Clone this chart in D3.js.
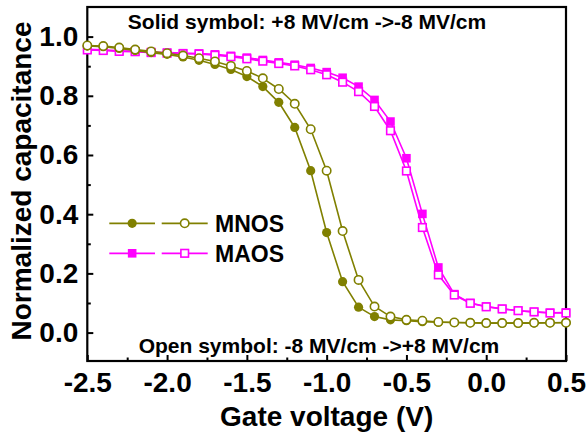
<!DOCTYPE html>
<html>
<head>
<meta charset="utf-8">
<script src="https://cdn.jsdelivr.net/npm/d3@7"></script>
<style>
  html, body { margin: 0; padding: 0; background: #fff; }
  svg { display: block; }
  text { font-family: "Liberation Sans", Arial, sans-serif; font-weight: bold; fill: #000; }
</style>
</head>
<body>
<svg id="chart" width="587" height="437"></svg>
<script>
// Gate voltage (V)
const voltage = [-2.5, -2.4, -2.3, -2.2, -2.1, -2.0, -1.9, -1.8, -1.7, -1.6, -1.5, -1.4, -1.3, -1.2, -1.1, -1.0,
                 -0.9, -0.8, -0.7, -0.6, -0.5, -0.4, -0.3, -0.2, -0.1, 0.0, 0.1, 0.2, 0.3, 0.4, 0.5];
// MNOS, solid symbol: +8 MV/cm -> -8 MV/cm
const mnosSolid = [0.968, 0.966, 0.960, 0.953, 0.946, 0.940, 0.931, 0.920, 0.906, 0.889, 0.865, 0.831, 0.778, 0.693, 0.547, 0.338,
                   0.172, 0.086, 0.054, 0.043, 0.040, 0.037, 0.035, 0.034, 0.033, 0.032, 0.032, 0.032, 0.032, 0.033, 0.034];
// MNOS, open symbol: -8 MV/cm -> +8 MV/cm
const mnosOpen = [0.970, 0.968, 0.963, 0.956, 0.950, 0.944, 0.936, 0.927, 0.916, 0.901, 0.884, 0.859, 0.823, 0.773, 0.687, 0.547,
                  0.343, 0.178, 0.088, 0.054, 0.043, 0.040, 0.036, 0.034, 0.033, 0.032, 0.032, 0.032, 0.033, 0.033, 0.033];
// MAOS, solid symbol
const maosSolid = [0.957, 0.955, 0.952, 0.950, 0.948, 0.946, 0.944, 0.943, 0.940, 0.935, 0.929, 0.921, 0.913, 0.905, 0.894, 0.880,
                   0.861, 0.831, 0.786, 0.713, 0.589, 0.401, 0.220, 0.130, 0.100, 0.088, 0.080, 0.074, 0.070, 0.067, 0.068];
// MAOS, open symbol
const maosOpen = [0.955, 0.953, 0.950, 0.949, 0.946, 0.944, 0.942, 0.941, 0.937, 0.932, 0.925, 0.917, 0.909, 0.901, 0.888, 0.871,
                  0.846, 0.814, 0.764, 0.682, 0.546, 0.355, 0.195, 0.127, 0.099, 0.087, 0.080, 0.074, 0.070, 0.066, 0.066];

const xMajorTicks = [-2.5, -2.0, -1.5, -1.0, -0.5, 0.0, 0.5];
const xMinorTicks = [-2.25, -1.75, -1.25, -0.75, -0.25, 0.25];
const yMajorTicks = [0.0, 0.2, 0.4, 0.6, 0.8, 1.0];
const yMinorTicks = [0.1, 0.3, 0.5, 0.7, 0.9];

const seriesNames = ["MNOS", "MAOS"];
const colors = { MNOS: "#808000", MAOS: "#ff00ff" };

const xLabel = "Gate voltage (V)";
const yLabel = "Normalized capacitance";
const noteTop = "Solid symbol: +8 MV/cm ->-8 MV/cm";
const noteBottom = "Open symbol: -8 MV/cm ->+8 MV/cm";

const W = 587, H = 437;
const margin = { left: 87.3, right: 21, top: 7, bottom: 76 };
const svg = d3.select("#chart");

const x = d3.scaleLinear().domain([-2.5, 0.5]).range([margin.left, W - margin.right]);
const y = d3.scaleLinear().domain([-0.096, 1.1]).range([H - margin.bottom, margin.top]);

// plain hyphen-minus, one decimal
const fmt = v => (Math.abs(v) < 1e-9 ? "0.0" : v.toFixed(1));

// axes (ticks inward)
const gx = svg.append("g").attr("transform", `translate(0,${H - margin.bottom})`);
gx.call(d3.axisBottom(x).tickValues(xMajorTicks).tickSize(-6).tickPadding(11.5).tickFormat(fmt));
const gxm = svg.append("g").attr("transform", `translate(0,${H - margin.bottom})`);
gxm.call(d3.axisBottom(x).tickValues(xMinorTicks).tickSize(-3.5).tickFormat(""));

const gy = svg.append("g").attr("transform", `translate(${margin.left},0)`);
gy.call(d3.axisLeft(y).tickValues(yMajorTicks).tickSize(-6).tickPadding(9).tickFormat(fmt));
const gym = svg.append("g").attr("transform", `translate(${margin.left},0)`);
gym.call(d3.axisLeft(y).tickValues(yMinorTicks).tickSize(-3.5).tickFormat(""));

[gx, gxm, gy, gym].forEach(g => {
  g.select(".domain").remove();
  g.selectAll(".tick line").attr("stroke", "#000").attr("stroke-width", 2);
  g.selectAll(".tick text").attr("font-size", 28).attr("font-weight", "bold")
    .attr("font-family", '"Liberation Sans", Arial, sans-serif').attr("fill", "#000");
});

// frame
svg.append("rect")
  .attr("x", x(-2.5)).attr("y", y(1.1))
  .attr("width", x(0.5) - x(-2.5)).attr("height", y(-0.096) - y(1.1))
  .attr("fill", "none").attr("stroke", "#000").attr("stroke-width", 2.2);

// axis titles
svg.append("text").attr("x", (x(-2.5) + x(0.5)) / 2).attr("y", 426)
  .attr("text-anchor", "middle").attr("font-size", 28).text(xLabel);
svg.append("text").attr("transform", `translate(30.5,${181}) rotate(-90)`)
  .attr("text-anchor", "middle").attr("font-size", 28).text(yLabel);

// notes
svg.append("text").attr("x", 307).attr("y", 28.5).attr("text-anchor", "middle")
  .attr("font-size", 21).text(noteTop);
svg.append("text").attr("x", 319).attr("y", 352.5).attr("text-anchor", "middle")
  .attr("font-size", 21).text(noteBottom);

// series
const line = d3.line().x(d => x(d[0])).y(d => y(d[1]));
const plot = svg.append("g");

function drawSeries(values, color, shape, filled) {
  const pts = voltage.map((v, i) => [v, values[i]]);
  plot.append("path").datum(pts).attr("d", line)
    .attr("fill", "none").attr("stroke", color).attr("stroke-width", 1.6);
  drawMarkers(plot, pts.map(p => [x(p[0]), y(p[1])]), color, shape, filled);
}

function drawMarkers(g, pxPts, color, shape, filled) {
  if (shape === "circle") {
    g.selectAll(null).data(pxPts).enter().append("circle")
      .attr("cx", d => d[0]).attr("cy", d => d[1]).attr("r", filled ? 4.6 : 4.2)
      .attr("fill", filled ? color : "#fff").attr("stroke", color).attr("stroke-width", filled ? 0 : 1.6);
  } else {
    const s = filled ? 8.6 : 7.6;
    g.selectAll(null).data(pxPts).enter().append("rect")
      .attr("x", d => d[0] - s / 2).attr("y", d => d[1] - s / 2).attr("width", s).attr("height", s)
      .attr("fill", filled ? color : "#fff").attr("stroke", color).attr("stroke-width", filled ? 0 : 1.6);
  }
}

drawSeries(maosSolid, colors.MAOS, "square", true);
drawSeries(maosOpen, colors.MAOS, "square", false);
drawSeries(mnosSolid, colors.MNOS, "circle", true);
drawSeries(mnosOpen, colors.MNOS, "circle", false);

// legend
const legend = svg.append("g");
const legendRows = [
  { name: seriesNames[0], shape: "circle", y: 223.3 },
  { name: seriesNames[1], shape: "square", y: 253.3 }
];
legendRows.forEach(r => {
  const c = colors[r.name];
  [[109.3, 155, true], [161.7, 207.7, false]].forEach(([a, b, filled]) => {
    legend.append("line").attr("x1", a).attr("x2", b).attr("y1", r.y).attr("y2", r.y)
      .attr("stroke", c).attr("stroke-width", 1.8);
    drawMarkers(legend, [[(a + b) / 2, r.y]], c, r.shape, filled);
  });
  legend.append("text").attr("x", 215).attr("y", r.y + 8.5).attr("font-size", 23).text(r.name);
});
</script>
</body>
</html>
